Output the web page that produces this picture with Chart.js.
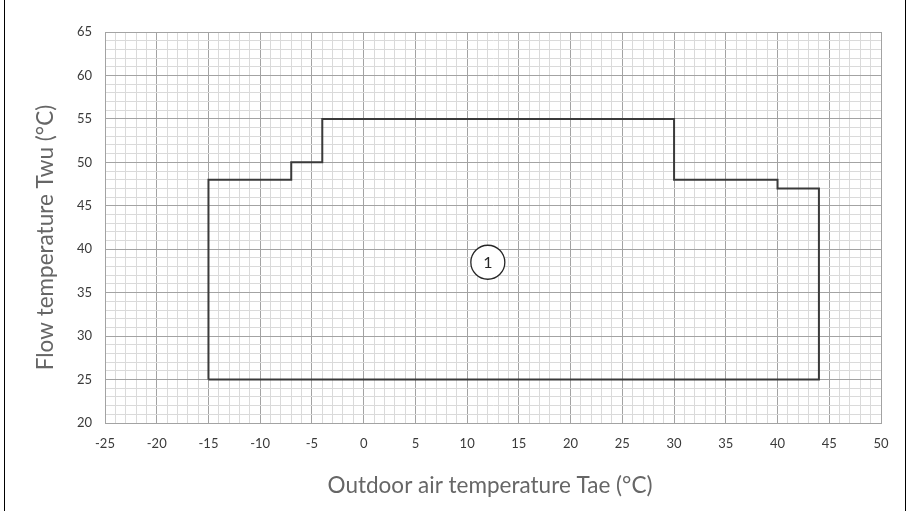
<!DOCTYPE html>
<html>
<head>
<meta charset="utf-8">
<script src="https://cdn.jsdelivr.net/npm/chart.js@4/dist/chart.umd.min.js"></script>
<style>
  html, body { margin: 0; padding: 0; background: #fff; }
  #wrap { width: 907px; height: 511px; position: relative; }
</style>
</head>
<body>
<div id="wrap"><canvas id="c"></canvas></div>
<script>
// Operating envelope outline (outdoor air temperature vs flow temperature)
const envelopeTae = [-15, -15, -7, -7, -4, -4, 30, 30, 40, 40, 44, 44, -15];
const envelopeTwu = [25, 48, 48, 50, 50, 55, 55, 48, 48, 47, 47, 25, 25];

// Zone marker
const zoneLabels = ['1'];
const zoneTae = [12];
const zoneTwu = [38.5];

// Axis ranges and tick steps
const xRange = [-25, 50];
const yRange = [20, 65];
const majorStep = 5;
const minorStep = 1;

const xTitle = 'Outdoor air temperature Tae (°C)';
const yTitle = 'Flow temperature Twu (°C)';

const fontFamily = 'Lato, "Open Sans", sans-serif';
const tickFont = { family: fontFamily, size: 13 };
const titleFontCss = '22.5px ' + fontFamily;
const titleColor = '#666666';

const gridColor = ctx => (Math.round(ctx.tick.value) % majorStep === 0) ? '#a3a3a3' : '#dadada';
const tickLabel = v => (Math.round(v) % majorStep === 0) ? String(v) : '';

// Axis titles, zone number text and the side rules of the figure frame
const decor = {
  id: 'decor',
  afterDatasetsDraw(chart) {
    const { ctx } = chart;
    const meta = chart.getDatasetMeta(1);
    ctx.save();
    ctx.fillStyle = '#262626';
    ctx.font = '16px ' + fontFamily;
    ctx.textAlign = 'center';
    ctx.textBaseline = 'middle';
    meta.data.forEach((pt, i) => ctx.fillText(zoneLabels[i], pt.x, pt.y + 1));
    ctx.restore();
  },
  afterDraw(chart) {
    const { ctx, width, height, chartArea } = chart;
    ctx.save();
    ctx.fillStyle = titleColor;
    ctx.font = titleFontCss;
    ctx.textAlign = 'center';
    ctx.textBaseline = 'alphabetic';
    // horizontal axis title below the tick labels
    ctx.fillText(xTitle, (chartArea.left + chartArea.right) / 2 - 3, chartArea.bottom + 70);
    // vertical axis title, rotated, left of the tick labels
    ctx.translate(chartArea.left - 52, (chartArea.top + chartArea.bottom) / 2 + 10);
    ctx.rotate(-Math.PI / 2);
    ctx.fillText(yTitle, 0, 0);
    ctx.restore();

    ctx.save();
    ctx.strokeStyle = '#000';
    ctx.lineWidth = 1;
    ctx.beginPath();
    ctx.moveTo(4.5, 0); ctx.lineTo(4.5, height);
    ctx.moveTo(width - 1.5, 0); ctx.lineTo(width - 1.5, height);
    ctx.stroke();
    ctx.restore();
  }
};

new Chart(document.getElementById('c'), {
  type: 'scatter',
  data: {
    datasets: [
      {
        data: envelopeTae.map((x, i) => ({ x, y: envelopeTwu[i] })),
        showLine: true,
        borderColor: '#3a3a3a',
        borderWidth: 2,
        pointRadius: 0,
        tension: 0,
        fill: false
      },
      {
        data: zoneTae.map((x, i) => ({ x, y: zoneTwu[i] })),
        pointRadius: 17,
        pointHoverRadius: 17,
        pointBackgroundColor: '#ffffff',
        pointBorderColor: '#262626',
        pointBorderWidth: 1.3
      }
    ]
  },
  options: {
    responsive: true,
    maintainAspectRatio: false,
    animation: false,
    events: [],
    layout: { padding: { left: 0, right: 26, top: 32, bottom: 0 } },
    plugins: { legend: { display: false }, tooltip: { enabled: false } },
    scales: {
      x: {
        type: 'linear',
        min: xRange[0], max: xRange[1],
        afterFit(scale) { scale.height = 88; },
        ticks: {
          stepSize: minorStep, autoSkip: false, maxRotation: 0,
          callback: tickLabel, color: '#3a3a3a', font: tickFont, padding: 13
        },
        grid: { color: gridColor, lineWidth: 1, drawTicks: false },
        border: { color: '#a3a3a3' }
      },
      y: {
        type: 'linear',
        min: yRange[0], max: yRange[1],
        afterFit(scale) { scale.width = 105; },
        ticks: {
          stepSize: minorStep, autoSkip: false,
          callback: tickLabel, color: '#3a3a3a', font: tickFont, padding: 13
        },
        grid: { color: gridColor, lineWidth: 1, drawTicks: false },
        border: { color: '#a3a3a3' }
      }
    }
  },
  plugins: [decor]
});
</script>
</body>
</html>
